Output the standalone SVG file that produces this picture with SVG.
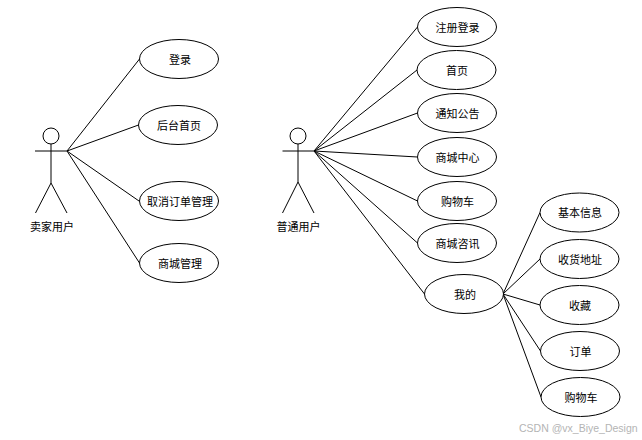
<svg xmlns="http://www.w3.org/2000/svg" width="642" height="440" viewBox="0 0 642 440">
<style>
.u{fill:#fff;stroke:#000;stroke-width:1}
.c{fill:none;stroke:#000;stroke-width:1}
text{font-family:"Noto Sans CJK SC","Noto Sans",sans-serif;font-size:11px;fill:#000;text-anchor:middle;dominant-baseline:central}
.wm{font-family:"Liberation Sans",Arial,sans-serif;font-size:10.500px;fill:#b4b4b4;text-anchor:start}
</style>
<rect width="642" height="440" fill="#fff"/>
<g id="connectors">
<path class="c" d="M67 151L139.500 59M67 151L138.500 125M67 151L139 201M67 151L139.500 263"/>
<path class="c" d="M314 151L417.500 27M314 151L417 70M314 151L417.500 113M314 151L417.500 157M314 151L417.500 201M314 151L417.500 243M314 151L424.500 294"/>
<path class="c" d="M503 294L540 212.500M503 294L540 259M503 294L540 305M503 294L540.500 351M503 294L541 397"/>
</g>
<g id="actor-seller"><circle class="u" cx="51" cy="136" r="8"/><path class="c" d="M35 151H67M51 144V183M51 183L35.500 213M51 183L67 213"/><text x="52" y="226">卖家用户</text></g>
<g id="actor-user"><circle class="u" cx="298" cy="136" r="8"/><path class="c" d="M282.500 151H314M298 144V182M298 182L282.500 213M298 182L314 213"/><text x="298.500" y="226">普通用户</text></g>
<g id="uc-login"><ellipse class="u" cx="179" cy="59" rx="39.500" ry="19.500"/><text x="180" y="58.500">登录</text></g>
<g id="uc-admin-home"><ellipse class="u" cx="178" cy="125" rx="39.500" ry="19.500"/><text x="179" y="124.500">后台首页</text></g>
<g id="uc-cancel"><ellipse class="u" cx="179" cy="201" rx="39.500" ry="19.500"/><text x="180" y="200.500">取消订单管理</text></g>
<g id="uc-mall-admin"><ellipse class="u" cx="179" cy="263" rx="39.500" ry="19.500"/><text x="180" y="262.500">商城管理</text></g>
<g id="uc-register"><ellipse class="u" cx="457" cy="27" rx="39.500" ry="19.500"/><text x="457.500" y="26.500">注册登录</text></g>
<g id="uc-home"><ellipse class="u" cx="456.500" cy="70" rx="39.500" ry="19.500"/><text x="457" y="69.500">首页</text></g>
<g id="uc-notice"><ellipse class="u" cx="457" cy="113" rx="39.500" ry="19.500"/><text x="457.500" y="112.500">通知公告</text></g>
<g id="uc-center"><ellipse class="u" cx="457" cy="157" rx="39.500" ry="19.500"/><text x="457.500" y="156.500">商城中心</text></g>
<g id="uc-cart"><ellipse class="u" cx="457" cy="201" rx="39.500" ry="19.500"/><text x="457.500" y="200.500">购物车</text></g>
<g id="uc-news"><ellipse class="u" cx="457" cy="243" rx="39.500" ry="19.500"/><text x="457.500" y="242.500">商城咨讯</text></g>
<g id="uc-mine"><ellipse class="u" cx="464" cy="294" rx="39.500" ry="19.500"/><text x="465" y="293.500">我的</text></g>
<g id="uc-info"><ellipse class="u" cx="579.500" cy="212.500" rx="39.500" ry="19.500"/><text x="580" y="212">基本信息</text></g>
<g id="uc-address"><ellipse class="u" cx="579.500" cy="259" rx="39.500" ry="19.500"/><text x="580" y="258.500">收货地址</text></g>
<g id="uc-fav"><ellipse class="u" cx="579.500" cy="305" rx="39.500" ry="19.500"/><text x="580" y="304.500">收藏</text></g>
<g id="uc-order"><ellipse class="u" cx="580" cy="351" rx="39.500" ry="19.500"/><text x="580.500" y="350.500">订单</text></g>
<g id="uc-cart2"><ellipse class="u" cx="580.500" cy="397" rx="39.500" ry="19.500"/><text x="581" y="396.500">购物车</text></g>
<text class="wm" x="519" y="428">CSDN @vx_Biye_Design</text>
</svg>
